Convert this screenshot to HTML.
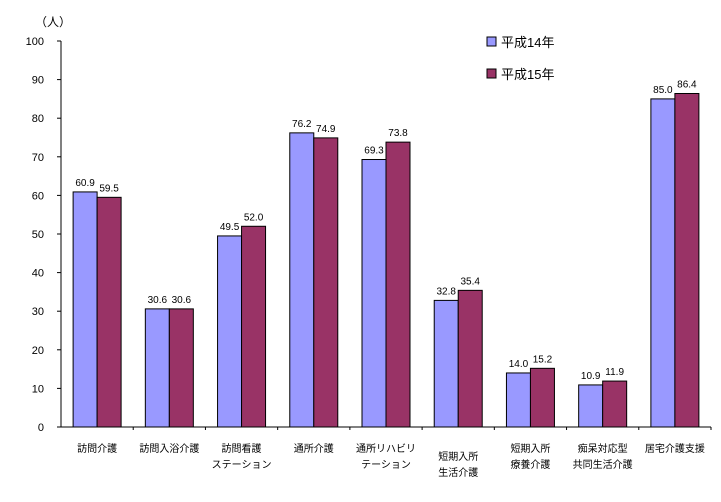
<!DOCTYPE html>
<html><head><meta charset="utf-8"><style>
body{margin:0;background:#fff;}
svg text{font-family:"Liberation Sans","Noto Sans CJK JP",sans-serif;}
</style></head><body>
<svg width="721" height="497" id="c"></svg>
<script>
const categories=[["訪問介護"],["訪問入浴介護"],["訪問看護","ステーション"],["通所介護"],["通所リハビリ","テーション"],["短期入所","生活介護"],["短期入所","療養介護"],["痴呆対応型","共同生活介護"],["居宅介護支援"]];
const labelOffsets=[0,0,0,0,0,8,0,0,0];
const seriesH14=[60.9,30.6,49.5,76.2,69.3,32.8,14.0,10.9,85.0];
const seriesH15=[59.5,30.6,52.0,74.9,73.8,35.4,15.2,11.9,86.4];
const yTicks=[0,10,20,30,40,50,60,70,80,90,100];
const seriesNames=["平成14年","平成15年"];
const colors=["#9999ff","#993366"];
const svg=document.getElementById('c');const NS="http://www.w3.org/2000/svg";
const x0=61,x1=711,yb=427,yt=41;
const catW=(x1-x0)/categories.length;
const y=v=>yb-(v/100)*(yb-yt);
function mk(t,a,txt){const e=document.createElementNS(NS,t);for(const k in a)e.setAttribute(k,a[k]);if(txt!=null)e.textContent=txt;svg.appendChild(e);return e;}
let e=mk('text',{x:35,y:26,'font-size':12,'text-anchor':'start'},'（人）');


yTicks.forEach(t=>{
 let l=mk('line',{x1:x0-4,x2:x0,y1:y(t),y2:y(t),stroke:'#000'});
 
 
 let tx=mk('text',{x:44,y:y(t)+4,'font-size':11,'text-anchor':'end'},String(t));
 
 
});
categories.forEach((c,i)=>{
 const gx=x0+i*catW, bw=24, bx=gx+(catW-2*bw)/2;
 [seriesH14[i],seriesH15[i]].forEach((v,s)=>{
  let r=mk('rect',{x:bx+s*bw,y:y(v),width:bw,height:yb-y(v),fill:colors[s],stroke:'#000','stroke-width':1});
  
  
  let t=mk('text',{x:bx+s*bw+bw/2,y:y(v)-6,'font-size':10,'text-anchor':'middle'},v.toFixed(1));
  
  
 });
 let tk=mk('line',{x1:gx+catW,x2:gx+catW,y1:yb,y2:yb+3,stroke:'#000'});
 
 
 c.forEach((ln,j)=>{
  let t=mk('text',{x:gx+catW/2,y:452+labelOffsets[i]+j*16,'font-size':10,'text-anchor':'middle'},ln);
  
  
 });
});
let ax=mk('line',{x1:x0,x2:x0,y1:yt,y2:yb,stroke:'#000'});


let axx=mk('line',{x1:x0,x2:x1,y1:yb,y2:yb,stroke:'#000'});


seriesNames.forEach((n,s)=>{
 let r=mk('rect',{x:487,y:37+s*32,width:9,height:9,fill:colors[s],stroke:'#000'});
 
 
 let t=mk('text',{x:501,y:47+s*32,'font-size':13},n);
 
 
});
</script>
</body></html>
